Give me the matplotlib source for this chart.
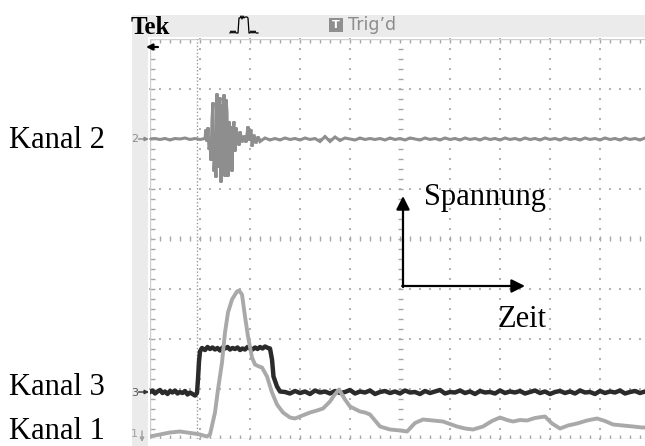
import matplotlib
matplotlib.use("Agg")
import matplotlib.pyplot as plt
import numpy as np
from matplotlib.patches import Rectangle

# ---------------- trace data (time and voltage in screen divisions) ----------------
# Kanal 1: received, rectified signal (light grey)
T1 = [0.00, 0.20, 0.40, 0.60, 0.74, 0.88, 1.00, 1.14, 1.20, 1.30, 1.36, 1.44, 1.50,
      1.56, 1.64, 1.74, 1.78, 1.84, 1.90, 1.96, 2.04, 2.10, 2.18, 2.24, 2.34, 2.44,
      2.54, 2.66, 2.80, 2.90, 3.00, 3.10, 3.20, 3.34, 3.46, 3.60, 3.68, 3.78, 3.90,
      4.00, 4.10, 4.20, 4.30, 4.40, 4.50, 4.60, 4.80, 5.00, 5.14, 5.30, 5.46, 5.66,
      5.86, 6.00, 6.14, 6.30, 6.46, 6.66, 6.84, 7.00, 7.14, 7.26, 7.40, 7.54, 7.70,
      7.90, 8.04, 8.20, 8.36, 8.54, 8.74, 8.94, 9.10, 9.26, 9.46, 9.66, 9.84, 10.0]
V1 = [-3.95, -3.91, -3.87, -3.85, -3.87, -3.89, -3.91, -3.95, -3.91, -3.47, -3.01,
      -2.47, -1.87, -1.47, -1.21, -1.05, -1.03, -1.11, -1.55, -1.95, -2.37, -2.51,
      -2.55, -2.57, -2.75, -3.07, -3.31, -3.47, -3.57, -3.59, -3.55, -3.51, -3.47,
      -3.43, -3.39, -3.25, -3.13, -3.01, -3.21, -3.35, -3.40, -3.45, -3.47, -3.51,
      -3.63, -3.75, -3.81, -3.83, -3.85, -3.68, -3.61, -3.63, -3.65, -3.70, -3.75,
      -3.79, -3.81, -3.75, -3.64, -3.57, -3.62, -3.65, -3.62, -3.63, -3.58, -3.55,
      -3.69, -3.79, -3.73, -3.69, -3.63, -3.59, -3.64, -3.71, -3.73, -3.75, -3.77,
      -3.77]

# Kanal 2: ultrasonic burst (mid grey)
T2_PRE = np.linspace(0.0, 1.1, 12)
V2_PRE = [2.00, 2.01, 1.99, 2.01, 1.98, 2.01, 2.00, 2.02, 1.99, 2.01, 1.99, 2.01]
T2_BURST = [1.12, 1.14, 1.16, 1.18, 1.20, 1.22, 1.24, 1.26, 1.28, 1.30, 1.32, 1.34,
            1.36, 1.38, 1.40, 1.42, 1.44, 1.46, 1.48, 1.50, 1.52, 1.54, 1.56, 1.58,
            1.60, 1.62, 1.64, 1.66, 1.68, 1.70, 1.72, 1.74, 1.76, 1.78, 1.80, 1.84,
            1.88, 1.92, 1.96, 1.98, 2.02, 2.04, 2.08, 2.12, 2.16, 2.20]
V2_BURST = [2.19, 1.95, 2.23, 1.79, 1.89, 1.57, 2.39, 2.73, 1.35, 1.75, 1.23, 2.91,
            1.43, 2.59, 2.83, 1.13, 2.69, 1.29, 2.89, 1.25, 2.79, 2.55, 1.25, 2.35,
            1.55, 2.25, 1.35, 2.19, 2.35, 1.75, 2.23, 1.95, 2.13, 1.87, 2.15, 1.93,
            2.07, 1.93, 2.25, 1.97, 2.19, 1.85, 2.09, 1.91, 2.05, 1.95]
T2_POST = np.linspace(2.3, 10.0, 78)
V2_POST = [2.02, 1.98, 2.01, 1.98, 2.02, 1.99, 2.01, 1.98, 2.02, 1.99,
           2.01, 1.95, 2.05, 1.95, 2.04, 1.97, 2.02, 2.00, 1.98, 2.02,
           1.99, 2.01, 1.99, 2.01, 1.98, 2.02, 1.99, 2.01, 1.98, 2.02,
           2.00, 1.98, 2.02, 1.99, 2.01, 1.98, 2.02, 1.99, 2.01, 1.98,
           2.02, 1.99, 2.01, 1.98, 2.02, 1.99, 2.01, 1.98, 2.02, 1.99,
           2.01, 1.98, 2.02, 1.99, 2.01, 1.98, 2.02, 1.99, 2.01, 1.98,
           2.02, 1.99, 2.01, 1.98, 2.02, 1.99, 2.01, 1.98, 2.02, 1.99,
           2.01, 1.98, 2.02, 1.99, 2.01, 1.98, 2.02, 2.00]

# Kanal 3: gate / window pulse (dark)
T3_PRE = np.linspace(0.0, 0.9, 19)
V3_PRE = [-3.06, -3.03, -3.09, -3.05, -3.02, -3.08, -3.05, -3.10, -3.04, -3.07,
          -3.03, -3.09, -3.06, -3.08, -3.04, -3.11, -3.07, -3.10, -3.13]
T3_GATE = [0.94, 0.96, 0.98, 1.00, 1.04, 1.10, 1.15, 1.20, 1.25, 1.30, 1.35, 1.40,
           1.45, 1.50, 1.55, 1.60, 1.65, 1.70, 1.75, 1.80, 1.85, 1.90, 1.95, 2.00,
           2.05, 2.10, 2.15, 2.20, 2.25, 2.30, 2.36, 2.40, 2.44, 2.47, 2.54, 2.60]
V3_GATE = [-3.08, -2.80, -2.45, -2.25, -2.18, -2.22, -2.16, -2.20, -2.17, -2.21,
           -2.18, -2.23, -2.17, -2.19, -2.16, -2.21, -2.18, -2.20, -2.17, -2.22,
           -2.19, -2.21, -2.16, -2.19, -2.21, -2.17, -2.20, -2.16, -2.19, -2.15,
           -2.18, -2.19, -2.41, -2.75, -2.95, -3.05]
T3_POST = np.linspace(2.7, 10.0, 74)
V3_POST = [-3.06, -3.09, -3.04, -3.08, -3.05, -3.10, -3.03, -3.07, -3.05, -3.09,
           -3.04, -3.08, -3.06, -3.02, -3.09, -3.05, -3.07, -3.03, -3.10, -3.06,
           -3.04, -3.08, -3.05, -3.09, -3.03, -3.07, -3.06, -3.10, -3.04, -3.08,
           -3.05, -3.02, -3.09, -3.06, -3.07, -3.03, -3.08, -3.05, -3.10, -3.04,
           -3.07, -3.06, -3.09, -3.03, -3.08, -3.05, -3.07, -3.04, -3.09, -3.06,
           -3.03, -3.08, -3.05, -3.10, -3.06, -3.04, -3.08, -3.05, -3.09, -3.03,
           -3.07, -3.06, -3.10, -3.04, -3.08, -3.05, -3.07, -3.03, -3.09, -3.06,
           -3.04, -3.08, -3.05, -3.07]

TRIGGER_T = 0.94

CHANNEL_LABELS = ["Kanal 2", "Kanal 3", "Kanal 1"]
AXIS_LABELS = ["Spannung", "Zeit"]

# ---------------- figure ----------------
W, H = 645, 446
fig = plt.figure(figsize=(W / 100, H / 100), dpi=100)
fig.patch.set_facecolor("white")

SERIF = ["Liberation Serif", "DejaVu Serif"]

# background (status bar and left strip of the scope screen)
bg = fig.add_axes([0, 0, 1, 1], zorder=0)
bg.set_xlim(0, W)
bg.set_ylim(H, 0)
bg.axis("off")
bg.add_patch(Rectangle((132, 15), W - 132, 22, color="#ebebeb", lw=0))
bg.add_patch(Rectangle((132, 37), 16, H - 37, color="#ebebeb", lw=0))

# the graticule area: 10 x 8 divisions
sc = fig.add_axes([150 / W, (H - 439) / H, 500 / W, 400 / H], zorder=1)
sc.set_xlim(0, 10)
sc.set_ylim(-4, 4)
sc.axis("off")
sc.patch.set_alpha(0)

grid_c = "#b2b2b2"
tick_c = "#a6a6a6"
sub_t = np.arange(0, 10.01, 0.2)
sub_v = np.arange(-4, 4.01, 0.2)

for t in [1, 2, 3, 4, 6, 7, 8, 9]:
    sc.scatter(np.full_like(sub_v, t), sub_v, s=1.6, marker="s", color=grid_c,
               linewidths=0, zorder=1, clip_on=False)
for v in [-3, -2, -1, 1, 2, 3]:
    sc.scatter(sub_t, np.full_like(sub_t, v), s=1.6, marker="s", color=grid_c,
               linewidths=0, zorder=1, clip_on=False)

# centre cross with minor ticks
sc.vlines(sub_t, -0.05, 0.05, color=tick_c, lw=1, zorder=1)
sc.hlines(sub_v, 4.95, 5.05, color=tick_c, lw=1, zorder=1)
# frame ticks
sc.vlines(sub_t, 3.91, 4.0, color=tick_c, lw=1, zorder=1)
sc.vlines(sub_t, -4.0, -3.91, color=tick_c, lw=1, zorder=1)
sc.hlines(sub_v, 0, 0.09, color=tick_c, lw=1, zorder=1)
sc.plot([0, 10], [4, 4], color="#cfcfcf", lw=1, zorder=1)
sc.plot([0, 10], [-4, -4], color="#cfcfcf", lw=1, zorder=1)
sc.plot([0, 0], [-4, 4], color="#cfcfcf", lw=1, zorder=1)

# trigger position
sc.plot([TRIGGER_T, TRIGGER_T], [-4, 4], color="#9a9a9a", lw=1,
        ls=(0, (1, 1.5)), zorder=2)

# traces
t2 = np.concatenate([T2_PRE, T2_BURST, T2_POST])
v2 = np.concatenate([V2_PRE, V2_BURST, V2_POST])
sc.plot(t2, v2, color="#8e8e8e", lw=2.2, zorder=3, solid_joinstyle="miter")

t3 = np.concatenate([T3_PRE, T3_GATE, T3_POST])
v3 = np.concatenate([V3_PRE, V3_GATE, V3_POST])
sc.plot(t3, v3, color="#2b2b2b", lw=3.2, zorder=4)

sc.plot(T1, V1, color="#a9a9a9", lw=2.8, zorder=5)

# ---------------- foreground: labels, markers, arrows ----------------
fg = fig.add_axes([0, 0, 1, 1], zorder=2)
fg.set_xlim(0, W)
fg.set_ylim(H, 0)
fg.axis("off")
fg.patch.set_alpha(0)

fg.text(131, 34, "Tek", family=SERIF, fontweight="bold", fontsize=18,
        color="black", va="baseline", ha="left")

# acquisition icon in the status bar
icon_x = [230, 231, 232, 233, 234, 235, 236, 238, 239, 240, 241, 242, 243, 244,
          245, 247, 248, 249, 250, 251, 252, 253, 254, 255, 256, 258]
icon_y = [33, 31, 33, 31, 33, 31, 33, 33, 18, 18, 16, 19, 16, 18, 17, 17, 18, 33,
          33, 31, 33, 31, 33, 31, 33, 33]
fg.plot(icon_x, icon_y, color="black", lw=0.9)

fg.add_patch(Rectangle((329, 18), 14, 14, color="#8f8f8f", lw=0))
fg.text(336, 25.5, "T", color="white", fontsize=8, fontweight="bold",
        ha="center", va="center", family="DejaVu Sans")
fg.text(348, 30, "Trig\u2019d", color="#8c8c8c", fontsize=12.5,
        family="DejaVu Sans", ha="left", va="baseline")

# trigger position marker
fg.annotate("", xy=(146, 47), xytext=(158, 47),
            arrowprops=dict(arrowstyle="-|>", color="black", lw=1.6,
                            mutation_scale=9, shrinkA=0, shrinkB=0))

# channel ground markers
fg.text(135, 139.5, "2", color="#8a8a8a", fontsize=8, ha="center", va="center")
fg.annotate("", xy=(149, 139), xytext=(138.5, 139),
            arrowprops=dict(arrowstyle="-|>", color="#8a8a8a", lw=1,
                            mutation_scale=6, shrinkA=0, shrinkB=0))
fg.text(135, 392.5, "3", color="#555555", fontsize=8, ha="center", va="center")
fg.annotate("", xy=(149, 392), xytext=(138.5, 392),
            arrowprops=dict(arrowstyle="-|>", color="#333333", lw=1,
                            mutation_scale=6, shrinkA=0, shrinkB=0))
fg.text(134, 434, "1", color="#a0a0a0", fontsize=8, ha="center", va="center")
fg.annotate("", xy=(142, 442), xytext=(142, 431),
            arrowprops=dict(arrowstyle="-|>", color="#a0a0a0", lw=1,
                            mutation_scale=6, shrinkA=0, shrinkB=0))

# channel names
for name, yb in zip(CHANNEL_LABELS, [148, 395, 439]):
    fg.text(9, yb, name, family=SERIF, fontsize=22, color="black",
            ha="left", va="baseline")

# voltage / time arrows
fg.annotate("", xy=(403, 196), xytext=(403, 287),
            arrowprops=dict(arrowstyle="-|>", color="black", lw=1.6,
                            mutation_scale=20, shrinkA=0, shrinkB=0))
fg.annotate("", xy=(525, 286), xytext=(402.2, 286),
            arrowprops=dict(arrowstyle="-|>", color="black", lw=1.6,
                            mutation_scale=20, shrinkA=0, shrinkB=0))
fg.text(424, 205, AXIS_LABELS[0], family=SERIF, fontsize=22, color="black",
        ha="left", va="baseline")
fg.text(498, 327, AXIS_LABELS[1], family=SERIF, fontsize=22, color="black",
        ha="left", va="baseline")

fig.savefig("out.png", dpi=100)
